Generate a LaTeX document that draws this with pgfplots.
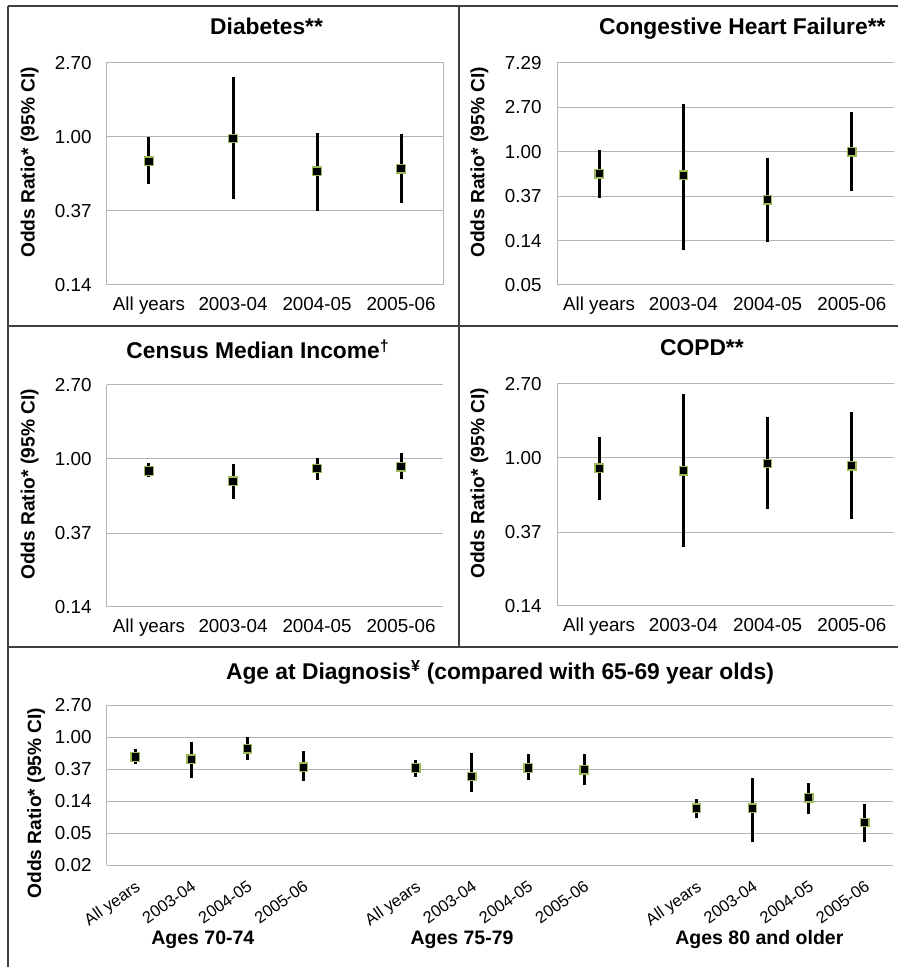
\documentclass[border=0pt]{standalone}
\usepackage{pgfplots}
\pgfplotsset{compat=1.18}
\usepackage{pgfplotstable}
\usepackage{fontspec}
\setmainfont{Liberation Sans}

\definecolor{mkgreen}{HTML}{9BBB59}
\definecolor{gridc}{HTML}{B4B4B4}
\definecolor{framec}{HTML}{404040}

% x = category position, or = odds ratio, lo/hi = 95% CI
\pgfplotstableread{
x or lo hi
0 0.72 0.53 1.00
1 0.98 0.43 2.24
2 0.63 0.37 1.06
3 0.65 0.41 1.04
}\tabDiab
\pgfplotstableread{
x or lo hi
0 0.61 0.35 1.05
1 0.59 0.11 2.95
2 0.34 0.13 0.87
3 1.00 0.41 2.45
}\tabCHF
\pgfplotstableread{
x or lo hi
0 0.85 0.78 0.95
1 0.74 0.58 0.93
2 0.88 0.75 1.01
3 0.90 0.76 1.08
}\tabIncome
\pgfplotstableread{
x or lo hi
0 0.87 0.57 1.33
1 0.84 0.30 2.39
2 0.93 0.50 1.75
3 0.90 0.44 1.86
}\tabCOPD
\pgfplotstableread{
x or lo hi
0 0.535 0.43 0.68
1 0.50 0.28 0.86
2 0.69 0.49 0.99
3 0.39 0.25 0.64
5 0.38 0.29 0.48
6 0.29 0.18 0.61
7 0.38 0.26 0.58
8 0.36 0.22 0.58
10 0.108 0.079 0.146
11 0.108 0.038 0.28
12 0.149 0.089 0.235
13 0.069 0.038 0.125
}\tabAge

\newcommand{\drawci}[1]{%
  \pgfplotstablegetrowsof{#1}%
  \pgfmathtruncatemacro{\lastrow}{\pgfplotsretval-1}%
  \pgfplotsforeachungrouped \rr in {0,...,\lastrow}{%
    \pgfplotstablegetelem{\rr}{x}\of{#1}\let\cix\pgfplotsretval
    \pgfplotstablegetelem{\rr}{lo}\of{#1}\let\cilo\pgfplotsretval
    \pgfplotstablegetelem{\rr}{hi}\of{#1}\let\cihi\pgfplotsretval
    \edef\cicmd{\noexpand\addplot[black, line width=3pt, forget plot] coordinates {(\cix,\cilo) (\cix,\cihi)};}%
    \cicmd
  }%
  \addplot[only marks, mark=square*, mark size=4.2pt,
    mark options={fill=black, draw=mkgreen, line width=1.3pt}] table[x=x,y=or]{#1};
}

\newcommand{\ttlfont}{\bfseries\fontsize{22.8}{27}\selectfont}

\pgfplotsset{
  orpanel/.style={
    scale only axis, clip=false,
    axis line style={gridc, line width=1pt},
    ymajorgrids, grid style={gridc, line width=1pt},
    tick style={draw=none},
    /pgf/number format/assume math mode=true,
    tick label style={font=\fontsize{18.8}{22}\selectfont},
    yticklabel style={xshift=-12pt},
    xticklabel style={yshift=-8pt, text height=14pt, text depth=4pt},
    ylabel={Odds Ratio* (95\% CI)},
    ylabel style={font=\bfseries\fontsize{19.2}{22}\selectfont,
      at={(axis description cs:-0.23,0.552)}, anchor=center},
  },
}

\begin{document}
\begin{tikzpicture}[x=1pt,y=1pt]
\useasboundingbox (0,0) rectangle (898,967);
% panel frames
\draw[framec, line width=1.6pt] (8,961) -- (898,961);
\draw[framec, line width=1.6pt] (8,961) -- (8,0);
\draw[framec, line width=1.6pt] (459,961) -- (459,320);
\draw[framec, line width=1.6pt] (8,641) -- (898,641);
\draw[framec, line width=1.6pt] (8,320) -- (898,320);

% Diabetes
\begin{axis}[orpanel, ymode=log, width=336pt, height=222pt,
  at={(107pt,682pt)}, anchor=south west,
  xmin=-0.5, xmax=3.5, xtick={0,1,2,3},
  xticklabels={All years,2003-04,2004-05,2005-06},
  ymin=0.135335, ymax=2.718282,
  ytick={0.135335,0.367879,1,2.718282},
  yticklabels={0.14,0.37,1.00,2.70},
  title={Diabetes**},
  title style={font=\ttlfont, at={(axis description cs:0.475,1)}, anchor=base, yshift=22pt}]
\drawci{\tabDiab}
\end{axis}

% Congestive Heart Failure
\begin{axis}[orpanel, ymode=log, width=337pt, height=222pt,
  at={(557pt,682pt)}, anchor=south west,
  axis x line*=bottom, axis y line*=left,
  xmin=-0.5, xmax=3.5, xtick={0,1,2,3},
  xticklabels={All years,2003-04,2004-05,2005-06},
  ymin=0.049787, ymax=7.389056,
  ytick={0.049787,0.135335,0.367879,1,2.718282,7.389056},
  yticklabels={0.05,0.14,0.37,1.00,2.70,7.29},
  title={Congestive Heart Failure**},
  title style={font=\ttlfont, at={(axis description cs:0.55,1)}, anchor=base, yshift=22pt}]
\drawci{\tabCHF}
\end{axis}

% Census Median Income
\begin{axis}[orpanel, ymode=log, width=336pt, height=222pt,
  at={(107pt,360pt)}, anchor=south west,
  axis x line*=bottom, axis y line*=left,
  xmin=-0.5, xmax=3.5, xtick={0,1,2,3},
  xticklabels={All years,2003-04,2004-05,2005-06},
  ymin=0.135335, ymax=2.718282,
  ytick={0.135335,0.367879,1,2.718282},
  yticklabels={0.14,0.37,1.00,2.70},
  title={Census Median Income\textsuperscript{†}},
  title style={font=\ttlfont, at={(axis description cs:0.449,1)}, anchor=base, yshift=20pt}]
\drawci{\tabIncome}
\end{axis}

% COPD
\begin{axis}[orpanel, ymode=log, width=337pt, height=222pt,
  at={(557pt,361pt)}, anchor=south west,
  axis x line*=bottom, axis y line*=left,
  xmin=-0.5, xmax=3.5, xtick={0,1,2,3},
  xticklabels={All years,2003-04,2004-05,2005-06},
  ymin=0.135335, ymax=2.718282,
  ytick={0.135335,0.367879,1,2.718282},
  yticklabels={0.14,0.37,1.00,2.70},
  title={COPD**},
  title style={font=\ttlfont, at={(axis description cs:0.43,1)}, anchor=base, yshift=22pt}]
\drawci{\tabCOPD}
\end{axis}

% Age at diagnosis
\begin{axis}[orpanel, ymode=log, width=786pt, height=160pt,
  at={(107pt,102pt)}, anchor=south west,
  axis x line*=bottom, axis y line*=left,
  xmin=-0.5, xmax=13.5,
  xtick={0,1,2,3,5,6,7,8,10,11,12,13},
  xticklabels={All years,2003-04,2004-05,2005-06,All years,2003-04,2004-05,2005-06,All years,2003-04,2004-05,2005-06},
  xticklabel style={xshift=0pt, yshift=-2pt, text height=, text depth=, rotate=35, anchor=north east, font=\fontsize{16.5}{19}\selectfont},
  ymin=0.018316, ymax=2.718282,
  ytick={0.018316,0.049787,0.135335,0.367879,1,2.718282},
  yticklabels={0.02,0.05,0.14,0.37,1.00,2.70},
  ylabel style={at={(axis description cs:-0.09,0.387)}},
  title={Age at Diagnosis\textsuperscript{¥} (compared with 65-69 year olds)},
  title style={font=\ttlfont, at={(axis description cs:0.5,1)}, anchor=base, yshift=20pt}]
\drawci{\tabAge}
\node[anchor=base, font=\bfseries\fontsize{19.5}{23}\selectfont] at (axis description cs:0.122,-0.5) {Ages 70-74};
\node[anchor=base, font=\bfseries\fontsize{19.5}{23}\selectfont] at (axis description cs:0.4517,-0.5) {Ages 75-79};
\node[anchor=base, font=\bfseries\fontsize{19.5}{23}\selectfont] at (axis description cs:0.83,-0.5) {Ages 80 and older};
\end{axis}
\end{tikzpicture}
\end{document}
